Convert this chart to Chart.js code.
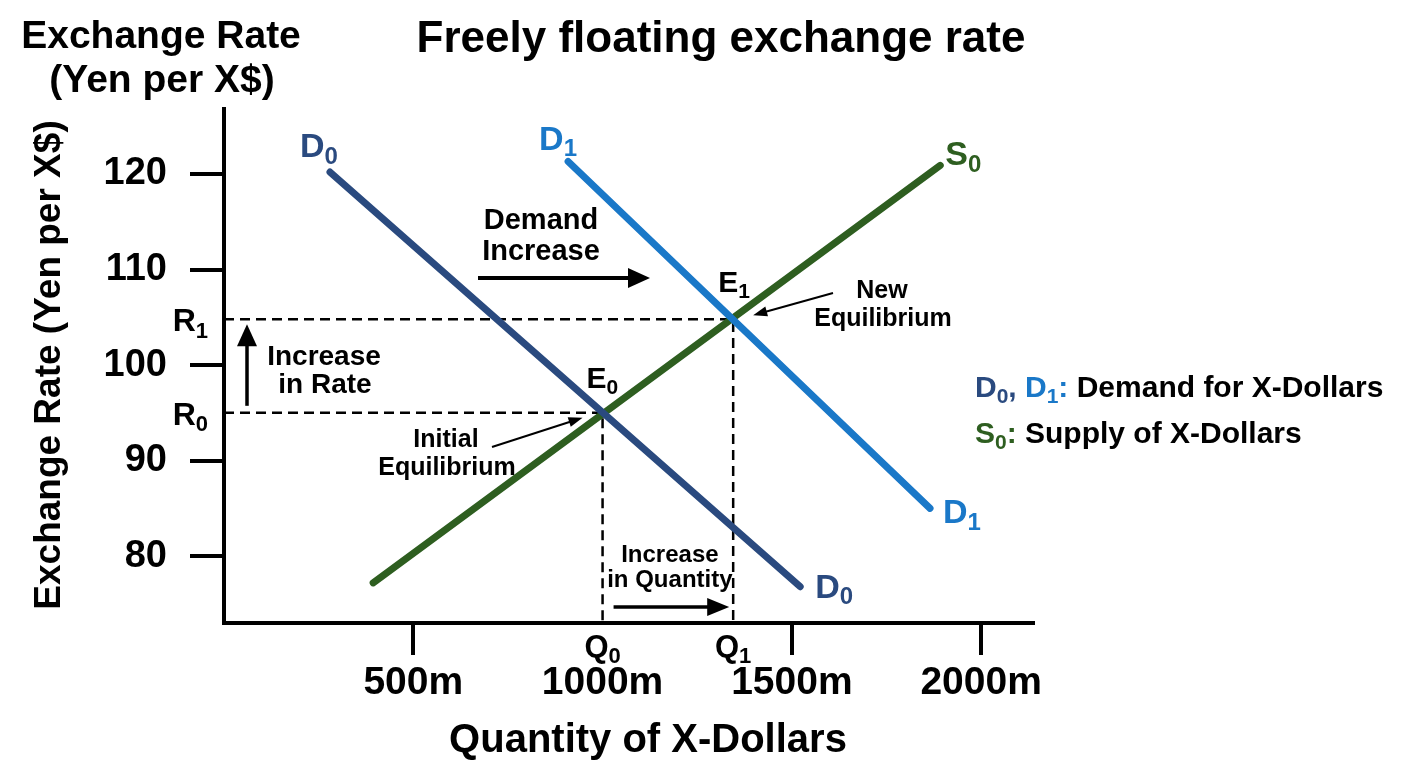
<!DOCTYPE html>
<html lang="en">
<head>
<meta charset="utf-8">
<title>Freely floating exchange rate</title>
<script src="https://cdn.jsdelivr.net/npm/chart.js@4.4.1/dist/chart.umd.min.js"></script>
<style>
  body { margin: 0; background: #fff; }
  canvas { display: block; }
</style>
</head>
<body>
<canvas id="tipoCambioChart" width="1408" height="768"></canvas>
<script>
// Curvas: cantidad de X-Dollars (millones) y tipo de cambio (yenes por X$)
const demanda0 = [{ x: 280, y: 120.2 }, { x: 1522, y: 76.8 }];
const demanda1 = [{ x: 909, y: 121.3 }, { x: 1865, y: 85.0 }];
const oferta0 = [{ x: 394, y: 77.2 }, { x: 1892, y: 120.9 }];

// Equilibrios (cantidad, tasa)
const equilibrio0 = { x: 1000, y: 95 };
const equilibrio1 = { x: 1345, y: 104.8 };

// Ejes
const rangoX = [0, 2137];
const rangoY = [73, 126.8];
const ticksX = [500, 1000, 1500, 2000];
const etiquetasX = ['500m', '1000m', '1500m', '2000m'];
const ticksY = [80, 90, 100, 110, 120];

const FUENTE = '"Liberation Sans", Arial, Helvetica, sans-serif';
const colorD0 = '#2a4a7f';
const colorD1 = '#1a78c8';
const colorS0 = '#2e5e20';

// Lineas punteadas: del eje Y al equilibrio y bajando al eje X
function guia(eq) {
  return [{ x: rangoX[0], y: eq.y }, { x: eq.x, y: eq.y }, { x: eq.x, y: rangoY[0] }];
}

function texto(ctx, str, x, y, size, color, align) {
  ctx.font = 'bold ' + size + 'px ' + FUENTE;
  ctx.fillStyle = color || '#000';
  ctx.textAlign = align || 'left';
  ctx.textBaseline = 'alphabetic';
  ctx.fillText(str, x, y);
  return x + ctx.measureText(str).width;
}

// Texto con subindice (D0, E1, ...), devuelve el x final
function conSub(ctx, base, sub, x, y, size, color, align) {
  const subSize = Math.round(size * 0.7);
  ctx.font = 'bold ' + size + 'px ' + FUENTE;
  const wb = ctx.measureText(base).width;
  ctx.font = 'bold ' + subSize + 'px ' + FUENTE;
  const ws = ctx.measureText(sub).width;
  let x0 = x;
  if (align === 'center') x0 = x - (wb + ws) / 2;
  if (align === 'right') x0 = x - (wb + ws);
  texto(ctx, base, x0, y, size, color);
  texto(ctx, sub, x0 + wb, y + size * 0.2, subSize, color);
  return x0 + wb + ws;
}

function flecha(ctx, x1, y1, x2, y2, grosor, largo, ancho) {
  const a = Math.atan2(y2 - y1, x2 - x1);
  const cos = Math.cos(a), sin = Math.sin(a);
  const bx = x2 - largo * cos, by = y2 - largo * sin;
  ctx.strokeStyle = '#000';
  ctx.fillStyle = '#000';
  ctx.lineWidth = grosor;
  ctx.lineCap = 'butt';
  ctx.setLineDash([]);
  ctx.beginPath();
  ctx.moveTo(x1, y1);
  ctx.lineTo(bx + cos, by + sin);
  ctx.stroke();
  ctx.beginPath();
  ctx.moveTo(x2, y2);
  ctx.lineTo(bx - sin * ancho / 2, by + cos * ancho / 2);
  ctx.lineTo(bx + sin * ancho / 2, by - cos * ancho / 2);
  ctx.closePath();
  ctx.fill();
}

// Plugin para titulos, rotulos y flechas
const anotaciones = {
  id: 'anotaciones',
  afterDraw(chart) {
    const ctx = chart.ctx;
    const px = v => chart.scales.x.getPixelForValue(v);
    const py = v => chart.scales.y.getPixelForValue(v);
    ctx.save();

    // Titulos
    texto(ctx, 'Freely floating exchange rate', 721, 52, 44, '#000', 'center');
    texto(ctx, 'Exchange Rate', 161, 48, 39, '#000', 'center');
    texto(ctx, '(Yen per X$)', 162, 92, 39, '#000', 'center');
    texto(ctx, 'Quantity of X-Dollars', 648, 752, 40, '#000', 'center');
    ctx.save();
    ctx.translate(60, 365);
    ctx.rotate(-Math.PI / 2);
    texto(ctx, 'Exchange Rate (Yen per X$)', 0, 0, 37, '#000', 'center');
    ctx.restore();

    // Nombres de las curvas
    conSub(ctx, 'D', '0', px(demanda0[0].x) - 30, py(demanda0[0].y) - 15, 34, colorD0);
    conSub(ctx, 'D', '0', px(demanda0[1].x) + 15, py(demanda0[1].y) + 11, 34, colorD0);
    conSub(ctx, 'D', '1', px(demanda1[0].x) - 29, py(demanda1[0].y) - 12, 34, colorD1);
    conSub(ctx, 'D', '1', px(demanda1[1].x) + 13, py(demanda1[1].y) + 15, 34, colorD1);
    conSub(ctx, 'S', '0', px(oferta0[1].x) + 5, py(oferta0[1].y), 34, colorS0);

    // Equilibrios
    conSub(ctx, 'E', '0', px(equilibrio0.x) - 16, py(equilibrio0.y) - 25, 30, '#000');
    conSub(ctx, 'E', '1', px(equilibrio1.x) - 15, py(equilibrio1.y) - 27, 30, '#000');

    // R0, R1 en el eje Y y Q0, Q1 en el eje X
    conSub(ctx, 'R', '0', px(rangoX[0]) - 16, py(equilibrio0.y) + 12, 32, '#000', 'right');
    conSub(ctx, 'R', '1', px(rangoX[0]) - 16, py(equilibrio1.y) + 12, 32, '#000', 'right');
    conSub(ctx, 'Q', '0', px(equilibrio0.x), py(rangoY[0]) + 34, 31, '#000', 'center');
    conSub(ctx, 'Q', '1', px(equilibrio1.x), py(rangoY[0]) + 34, 31, '#000', 'center');

    // Aumento de la demanda
    texto(ctx, 'Demand', 541, 229, 29, '#000', 'center');
    texto(ctx, 'Increase', 541, 260, 29, '#000', 'center');
    flecha(ctx, 478, 278, 650, 278, 4, 22, 20);

    // Aumento de la tasa
    texto(ctx, 'Increase', 324, 365, 28, '#000', 'center');
    texto(ctx, 'in Rate', 325, 393, 28, '#000', 'center');
    flecha(ctx, 247, py(equilibrio0.y) - 7, 247, py(equilibrio1.y) + 5, 3.5, 22, 20);

    // Aumento de la cantidad
    texto(ctx, 'Increase', (px(equilibrio0.x) + px(equilibrio1.x)) / 2 + 2, 562, 24, '#000', 'center');
    texto(ctx, 'in Quantity', (px(equilibrio0.x) + px(equilibrio1.x)) / 2 + 2, 587, 24, '#000', 'center');
    flecha(ctx, px(equilibrio0.x) + 11, 607, px(equilibrio1.x) - 4, 607, 3.5, 22, 18);

    // Equilibrio inicial y nuevo
    texto(ctx, 'Initial', 446, 447, 25, '#000', 'center');
    texto(ctx, 'Equilibrium', 447, 475, 25, '#000', 'center');
    flecha(ctx, 492, 447, px(equilibrio0.x) - 20, py(equilibrio0.y) + 5, 2, 14, 10);
    texto(ctx, 'New', 882, 298, 25, '#000', 'center');
    texto(ctx, 'Equilibrium', 883, 326, 25, '#000', 'center');
    flecha(ctx, 833, 293, px(equilibrio1.x) + 20, py(equilibrio1.y) - 4, 2, 14, 10);

    // Leyenda
    let x = conSub(ctx, 'D', '0', 975, 397, 30, colorD0);
    x = texto(ctx, ', ', x, 397, 30, colorD0);
    x = conSub(ctx, 'D', '1', x, 397, 30, colorD1);
    x = texto(ctx, ':', x, 397, 30, colorD1);
    texto(ctx, ' Demand for X-Dollars', x, 397, 30, '#000');
    x = conSub(ctx, 'S', '0', 975, 443, 30, colorS0);
    x = texto(ctx, ':', x, 443, 30, colorS0);
    texto(ctx, ' Supply of X-Dollars', x, 443, 30, '#000');

    ctx.restore();
  }
};

document.addEventListener('DOMContentLoaded', () => {
  const curva = { borderWidth: 7, showLine: true, pointRadius: 0, borderCapStyle: 'round', fill: false, order: 1 };
  const punteada = { borderColor: '#000', borderWidth: 2.5, borderDash: [10, 6], showLine: true, pointRadius: 0, fill: false, order: 2 };

  const datos = {
    datasets: [
      { label: 'D0', data: demanda0, borderColor: colorD0, ...curva },
      { label: 'D1', data: demanda1, borderColor: colorD1, ...curva },
      { label: 'S0', data: oferta0, borderColor: colorS0, ...curva },
      { label: 'E0', data: guia(equilibrio0), ...punteada },
      { label: 'E1', data: guia(equilibrio1), ...punteada }
    ]
  };

  const fuenteEje = size => ({ family: FUENTE, size: size, weight: 'bold' });

  const config = {
    type: 'scatter',
    data: datos,
    options: {
      responsive: false,
      animation: false,
      events: [],
      layout: { padding: { top: 109, right: 375, bottom: 40, left: 0 } },
      plugins: { legend: { display: false }, tooltip: { enabled: false } },
      elements: { line: { tension: 0 } },
      scales: {
        x: {
          type: 'linear',
          min: rangoX[0],
          max: rangoX[1],
          afterBuildTicks: eje => { eje.ticks = ticksX.map(v => ({ value: v })); },
          afterFit: eje => { eje.height = 105; },
          grid: {
            drawOnChartArea: false,
            tickLength: 32,
            tickWidth: 4,
            lineWidth: 4,
            tickColor: c => (c.tick && c.tick.value === 1000 ? 'rgba(0,0,0,0)' : '#000')
          },
          border: { display: true, color: '#000', width: 4 },
          ticks: {
            padding: 5,
            color: '#000',
            font: fuenteEje(39),
            maxRotation: 0,
            autoSkip: false,
            callback: v => etiquetasX[ticksX.indexOf(v)]
          }
        },
        y: {
          type: 'linear',
          min: rangoY[0],
          max: rangoY[1],
          afterBuildTicks: eje => { eje.ticks = ticksY.map(v => ({ value: v })); },
          afterFit: eje => { eje.width = 224; },
          grid: { drawOnChartArea: false, tickLength: 34, tickWidth: 4, lineWidth: 4, tickColor: '#000' },
          border: { display: true, color: '#000', width: 4 },
          ticks: { padding: 23, color: '#000', font: fuenteEje(38), callback: v => String(v) }
        }
      }
    },
    plugins: [anotaciones]
  };

  new Chart(document.getElementById('tipoCambioChart'), config);
});
</script>
</body>
</html>
